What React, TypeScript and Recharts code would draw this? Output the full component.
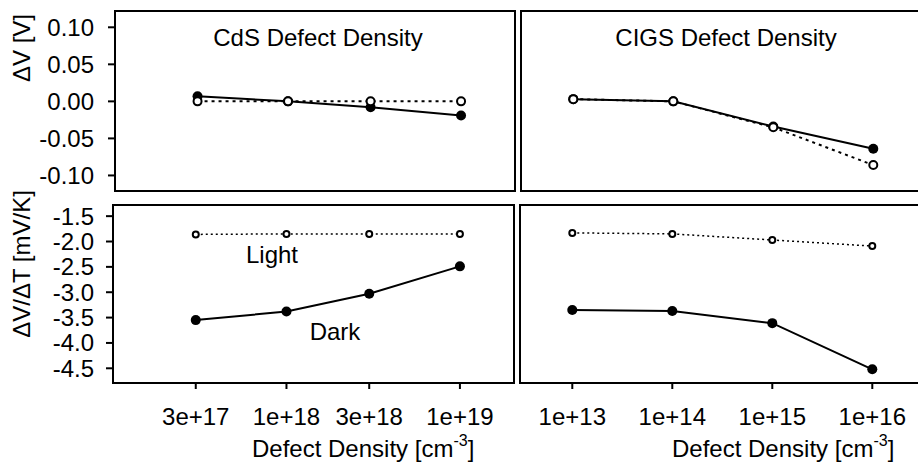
import { LineChart, Line, XAxis, YAxis, ReferenceArea } from "recharts";

// defect densities [cm^-3]
const cdsDensity = [3e17, 1e18, 3e18, 1e19];
const cigsDensity = [1e13, 1e14, 1e15, 1e16];

// voltage shift dV [V]
const cdsDvDark = [0.007, 0.0, -0.008, -0.019];
const cdsDvLight = [0.0, 0.0, 0.0, 0.0];
const cigsDvDark = [0.003, 0.0, -0.034, -0.064];
const cigsDvLight = [0.003, 0.0, -0.035, -0.086];

// temperature coefficient dV/dT [mV/K]
const cdsSlopeDark = [-3.55, -3.38, -3.03, -2.49];
const cdsSlopeLight = [-1.86, -1.85, -1.85, -1.85];
const cigsSlopeDark = [-3.35, -3.37, -3.61, -4.52];
const cigsSlopeLight = [-1.83, -1.85, -1.97, -2.09];

const dvTicks = [0.1, 0.05, 0, -0.05, -0.1];
const slopeTicks = [-1.5, -2, -2.5, -3, -3.5, -4, -4.5];

const W = 930;
const H = 464;
const FONT = "'Liberation Sans', Arial, Helvetica, sans-serif";
const border = { stroke: "#000", strokeWidth: 2 };
const tickLine = { stroke: "#000", strokeWidth: 2 };
const tickText = { fill: "#000", fontSize: 24 };

interface PanelProps {
  x0: number;
  y0: number;
  x1: number;
  y1: number;
  xs: number[];
  dark: number[];
  light: number[];
  xDomain: [number, number];
  yDomain: [number, number];
  yTicks: number[];
  yDigits: number;
  xLabels: boolean;
  yLabels: boolean;
  yTickMargin: number;
  lightR: number;
  lightDash: string;
  lightWidth: number;
}

const Panel = (p: PanelProps) => {
  const data = p.xs.map((x, i) => ({ x, dark: p.dark[i], light: p.light[i] }));
  return (
    <div style={{ position: "absolute", left: 0, top: 0 }}>
      <LineChart
        width={W}
        height={H}
        data={data}
        margin={{ top: p.y0, right: W - p.x1, bottom: 0, left: 0 }}
      >
        <XAxis
          dataKey="x"
          type="number"
          scale="log"
          domain={p.xDomain}
          allowDataOverflow
          ticks={p.xs}
          interval={0}
          height={H - p.y1}
          tickSize={6}
          tickMargin={19}
          tick={p.xLabels ? tickText : false}
          tickFormatter={(v: number) => v.toExponential()}
          axisLine={border}
          tickLine={tickLine}
        />
        <YAxis
          type="number"
          domain={p.yDomain}
          allowDataOverflow
          ticks={p.yTicks}
          interval={0}
          width={p.x0}
          tickSize={p.yLabels ? 7 : 6}
          tickMargin={p.yTickMargin}
          tick={p.yLabels ? tickText : false}
          tickFormatter={(v: number) => v.toFixed(p.yDigits)}
          axisLine={border}
          tickLine={tickLine}
        />
        {/* panel frame */}
        <ReferenceArea
          x1={p.xDomain[0]}
          x2={p.xDomain[1]}
          y1={p.yDomain[0]}
          y2={p.yDomain[1]}
          fill="none"
          fillOpacity={0}
          stroke="#000"
          strokeWidth={2}
          strokeOpacity={1}
          ifOverflow="extendDomain"
        />
        <Line
          dataKey="dark"
          stroke="#000"
          strokeWidth={2}
          dot={{ r: 5, fill: "#000", stroke: "#000", strokeWidth: 0 }}
          activeDot={false}
          isAnimationActive={false}
        />
        <Line
          dataKey="light"
          stroke="#000"
          strokeWidth={p.lightWidth}
          strokeDasharray={p.lightDash}
          dot={{ r: p.lightR, fill: "#fff", stroke: "#000", strokeWidth: 2, strokeDasharray: "" }}
          activeDot={false}
          isAnimationActive={false}
        />
      </LineChart>
    </div>
  );
};

const App = () => {
  const cdsX: [number, number] = [1e17, 2.05e19];
  const cigsX: [number, number] = [3e12, 3e16];
  const dvY: [number, number] = [-0.121, 0.122];
  const slopeY: [number, number] = [-4.79, -1.28];

  return (
    <div
      style={{
        position: "absolute",
        left: 0,
        top: 0,
        width: 918,
        height: 464,
        overflow: "hidden",
        background: "#fff",
        fontFamily: FONT,
      }}
    >
      <Panel
        x0={115} y0={11} x1={515} y1={191}
        xs={cdsDensity} dark={cdsDvDark} light={cdsDvLight}
        xDomain={cdsX} yDomain={dvY} yTicks={dvTicks} yDigits={2}
        xLabels={false} yLabels={true} yTickMargin={14}
        lightR={4} lightDash="3 4" lightWidth={2}
      />
      <Panel
        x0={521} y0={11} x1={921} y1={191}
        xs={cigsDensity} dark={cigsDvDark} light={cigsDvLight}
        xDomain={cigsX} yDomain={dvY} yTicks={dvTicks} yDigits={2}
        xLabels={false} yLabels={false} yTickMargin={0}
        lightR={4} lightDash="3 4" lightWidth={2}
      />
      <Panel
        x0={113} y0={205} x1={514} y1={383}
        xs={cdsDensity} dark={cdsSlopeDark} light={cdsSlopeLight}
        xDomain={cdsX} yDomain={slopeY} yTicks={slopeTicks} yDigits={1}
        xLabels={true} yLabels={true} yTickMargin={12}
        lightR={3} lightDash="2 3" lightWidth={1.5}
      />
      <Panel
        x0={520} y0={205} x1={920} y1={383}
        xs={cigsDensity} dark={cigsSlopeDark} light={cigsSlopeLight}
        xDomain={cigsX} yDomain={slopeY} yTicks={slopeTicks} yDigits={1}
        xLabels={true} yLabels={false} yTickMargin={0}
        lightR={3} lightDash="2 3" lightWidth={1.5}
      />
      <svg
        width={918}
        height={464}
        style={{ position: "absolute", left: 0, top: 0 }}
        fontFamily={FONT}
        fontSize={24}
        fill="#000"
      >
        <text x={318} y={46} textAnchor="middle">CdS Defect Density</text>
        <text x={726} y={46} textAnchor="middle">CIGS Defect Density</text>
        <text x={272} y={263} textAnchor="middle">Light</text>
        <text x={335} y={340} textAnchor="middle">Dark</text>
        <text transform="translate(30,48) rotate(-90)" textAnchor="middle">ΔV [V]</text>
        <text transform="translate(30,264) rotate(-90)" textAnchor="middle">ΔV/ΔT [mV/K]</text>
        <text x={252} y={457}>
          Defect Density [cm
          <tspan dy={-11} fontSize={16}>-3</tspan>
          <tspan dy={11}>]</tspan>
        </text>
        <text x={672} y={457}>
          Defect Density [cm
          <tspan dy={-11} fontSize={16}>-3</tspan>
          <tspan dy={11}>]</tspan>
        </text>
      </svg>
    </div>
  );
};

export default App;
